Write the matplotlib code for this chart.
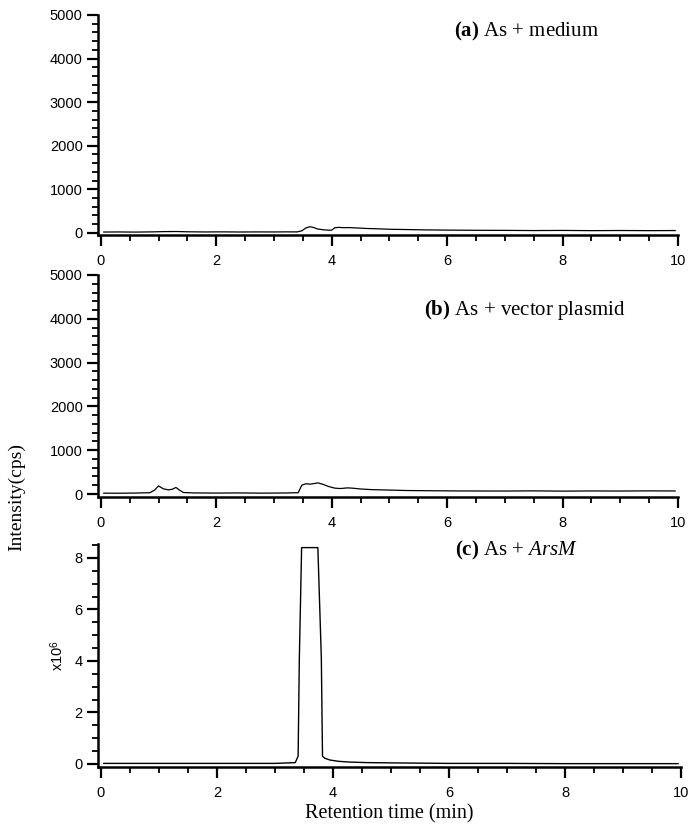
import matplotlib
matplotlib.use("Agg")
import matplotlib.pyplot as plt
from matplotlib.ticker import MultipleLocator
import numpy as np

plt.rcParams["font.family"] = ["Liberation Sans", "DejaVu Sans"]
plt.rcParams["mathtext.fontset"] = "custom"
plt.rcParams["mathtext.rm"] = "Liberation Serif"
plt.rcParams["mathtext.it"] = "Liberation Serif:italic"
plt.rcParams["mathtext.bf"] = "Liberation Serif:bold"
plt.rcParams["mathtext.sf"] = "Liberation Sans"

# (a) As + medium, intensity in cps
time_a = [0.05, 0.3, 0.6, 0.9, 1.1, 1.3, 1.5, 1.8, 2.1, 2.4, 2.7, 3.0, 3.2, 3.4,
          3.48, 3.55, 3.62, 3.68, 3.75, 3.85, 3.95, 4.0, 4.05, 4.12, 4.2, 4.3,
          4.45, 4.6, 4.8, 5.0, 5.3, 5.6, 6.0, 6.5, 7.0, 7.5, 8.0, 8.5, 9.0, 9.5, 9.95]
cps_a = [18, 20, 17, 22, 28, 30, 24, 20, 22, 19, 21, 20, 22, 21,
         45, 110, 140, 125, 90, 70, 60, 62, 115, 125, 118, 120,
         110, 100, 92, 82, 75, 68, 62, 58, 56, 52, 55, 50, 53, 50, 52]

# (b) As + vector plasmid
time_b = [0.05, 0.3, 0.6, 0.85, 0.93, 1.0, 1.08, 1.17, 1.24, 1.3, 1.36, 1.43,
          1.6, 2.0, 2.4, 2.8, 3.2, 3.42, 3.48, 3.55, 3.62, 3.7, 3.76, 3.85,
          3.95, 4.05, 4.15, 4.27, 4.35, 4.5, 4.7, 5.0, 5.3, 5.7, 6.2, 7.0,
          7.5, 8.0, 8.5, 9.0, 9.5, 9.95]
cps_b = [20, 18, 22, 30, 90, 185, 120, 95, 110, 150, 90, 35,
         25, 22, 25, 20, 24, 30, 200, 235, 225, 240, 255, 220,
         170, 135, 125, 140, 135, 115, 100, 90, 80, 75, 70, 68,
         72, 66, 70, 68, 72, 70]

# (c) As + ArsM, intensity x10^6 cps
time_c = [0.05, 1.0, 2.0, 3.0, 3.35, 3.4, 3.42, 3.46, 3.74, 3.8, 3.82,
          3.86, 3.95, 4.1, 4.3, 4.6, 5.0, 5.5, 6.0, 7.0, 8.0, 9.0, 9.95]
cps_c = [0.02, 0.02, 0.02, 0.02, 0.05, 0.3, 4.0, 8.4, 8.4, 4.1, 0.3,
         0.22, 0.15, 0.1, 0.07, 0.05, 0.04, 0.03, 0.02, 0.02, 0.01, 0.01, 0.01]

panel_titles = [r"$\mathbf{(a)}$ As + medium",
                r"$\mathbf{(b)}$ As + vector plasmid",
                r"$\mathbf{(c)}$ As + $\mathit{ArsM}$"]

fig = plt.figure(figsize=(6.99, 8.34), dpi=100)

W, H = 699.0, 834.0
ax_a = fig.add_axes([98 / W, 1 - 235 / H, 580 / W, 220 / H])
ax_b = fig.add_axes([98 / W, 1 - 497 / H, 580 / W, 222 / H])
ax_c = fig.add_axes([98 / W, 1 - 767 / H, 583 / W, 223 / H])


def style_axes(ax, ymajor, yminor):
    for side in ["top", "right"]:
        ax.spines[side].set_visible(False)
    for side in ["left", "bottom"]:
        ax.spines[side].set_linewidth(1.8)
    ax.xaxis.set_major_locator(MultipleLocator(2))
    ax.xaxis.set_minor_locator(MultipleLocator(0.5))
    ax.yaxis.set_major_locator(MultipleLocator(ymajor))
    ax.yaxis.set_minor_locator(MultipleLocator(yminor))
    ax.tick_params(which="major", length=8, width=1.6, labelsize=10.5,
                   direction="out")
    ax.tick_params(which="minor", length=4, width=1.3, direction="out")
    ax.tick_params(axis="x", which="major", pad=6)
    ax.tick_params(axis="y", which="major", pad=3)


ax_a.plot(time_a, cps_a, color="black", linewidth=0.9)
ax_a.set_xlim(-0.05, 10)
ax_a.set_ylim(-50, 5000)
style_axes(ax_a, 1000, 200)

ax_b.plot(time_b, cps_b, color="black", linewidth=0.9)
ax_b.set_xlim(-0.05, 10)
ax_b.set_ylim(-68, 5000)
style_axes(ax_b, 1000, 200)

ax_c.plot(time_c, cps_c, color="black", linewidth=1.0)
ax_c.set_xlim(-0.05, 10)
ax_c.set_ylim(-0.12, 8.54)
style_axes(ax_c, 2, 0.5)

title_pos = [(527, 31), (525, 310), (517, 550)]
for text, (px, py) in zip(panel_titles, title_pos):
    fig.text(px / W, 1 - py / H, text, fontsize=15, ha="center", va="center",
             family="Liberation Serif")

fig.text(17 / W, 1 - 497 / H, "Intensity(cps)", rotation=90, fontsize=14,
         family="Liberation Serif", ha="center", va="center")
fig.text(57 / W, 1 - 656 / H, r"x10$^{\mathsf{6}}$", rotation=90, fontsize=10.5,
         ha="center", va="center")
ax_c.set_xlabel("Retention time (min)", fontsize=14.5, family="Liberation Serif",
                labelpad=3)

plt.savefig("out.png", dpi=100)
